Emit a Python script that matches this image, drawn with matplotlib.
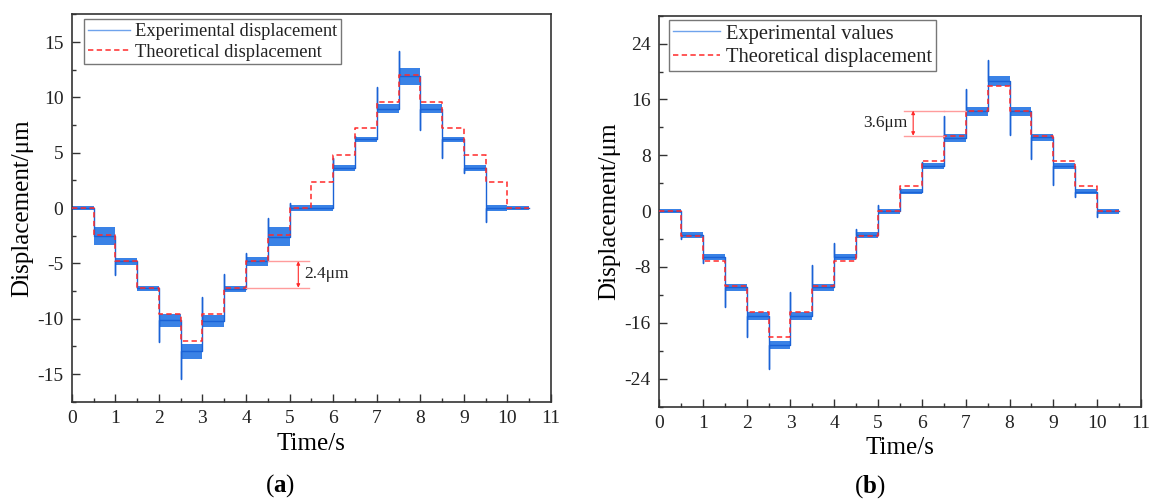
import numpy as np
import matplotlib
matplotlib.use("Agg")
import matplotlib.pyplot as plt
from matplotlib.ticker import MultipleLocator

plt.rcParams["font.family"] = ["Liberation Serif", "DejaVu Serif"]
plt.rcParams["mathtext.fontset"] = "custom"
plt.rcParams["mathtext.rm"] = "Liberation Serif"
plt.rcParams["mathtext.bf"] = "Liberation Serif:bold"
plt.rcParams["axes.unicode_minus"] = False

# start time of every step (s), last step ends at t_end
step_times = [0.0, 0.5, 1.0, 1.5, 2.0, 2.5, 3.0, 3.5, 4.0, 4.5, 5.0,
              5.5, 6.0, 6.5, 7.0, 7.5, 8.0, 8.5, 9.0, 9.5, 10.0]
t_end = 10.5

# (a) 2.4 um steps
theo_a = [0, -2.4, -4.8, -7.2, -9.6, -12.0, -9.6, -7.2, -4.8, -2.4, 0,
          2.4, 4.8, 7.2, 9.6, 12.0, 9.6, 7.2, 4.8, 2.4, 0]
exp_a = [0, -2.5, -4.8, -7.25, -10.15, -12.95, -10.2, -7.3, -4.8, -2.6, 0,
         0, 3.6, 6.2, 9.0, 11.9, 9.0, 6.2, 3.6, 0, 0]
noise_a = [0.2, 0.8, 0.3, 0.25, 0.6, 0.65, 0.55, 0.3, 0.4, 0.85, 0.25,
           0.25, 0.25, 0.25, 0.45, 0.8, 0.45, 0.25, 0.25, 0.25, 0.2]
spike_a = [0, -2.5, -6.06, -7.25, -12.1, -15.45, -8.0, -6.0, -4.1, -0.9, 0.5,
           0, 4.5, 6.5, 10.9, 14.2, 7.1, 4.5, 3.2, -1.3, 0]

# (b) 3.6 um steps
theo_b = [0, -3.6, -7.2, -10.8, -14.4, -18.0, -14.4, -10.8, -7.2, -3.6, 0,
          3.6, 7.2, 10.8, 14.4, 18.0, 14.4, 10.8, 7.2, 3.6, 0]
exp_b = [0, -3.4, -6.6, -10.9, -15.0, -19.2, -15.0, -10.9, -6.6, -3.4, 0,
         2.8, 6.5, 10.5, 14.3, 18.7, 14.3, 10.6, 6.5, 2.8, 0]
noise_b = [0.3, 0.4, 0.4, 0.5, 0.6, 0.6, 0.6, 0.5, 0.4, 0.4, 0.35,
           0.4, 0.4, 0.6, 0.65, 0.7, 0.65, 0.5, 0.4, 0.4, 0.35]
spike_b = [0, -4.0, -7.5, -13.7, -18.0, -22.6, -11.6, -7.7, -4.6, -2.6, 0.9,
           3.3, 7.0, 13.6, 17.5, 21.6, 10.9, 7.4, 3.7, 2.0, -0.8]

BLUE = "#3a82e6"
BLUE_DARK = "#1a62d6"
RED = "#ff2a2a"
PINK = "#ff9c9c"
DARK = "#333333"


def draw_panel(ax, theo, exp, noise, spike, exp_label, ylim, major, minor,
               legend_size, legend_anchor):

    edges = np.append(step_times, t_end)
    exp = np.asarray(exp, dtype=float)
    noise = np.asarray(noise, dtype=float)

    # noise band of every plateau
    lo = np.append(exp - noise, exp[-1] - noise[-1])
    hi = np.append(exp + noise, exp[-1] + noise[-1])
    ax.fill_between(edges, lo, hi, step="post", color=BLUE, lw=0,
                    zorder=2)

    # centre line with the overshoot at each switch
    xs, ys = [], []
    for i, t in enumerate(step_times):
        if i > 0:
            xs += [t, t]
            ys += [exp[i - 1], spike[i]]
        xs.append(t)
        ys.append(exp[i])
    xs.append(t_end)
    ys.append(exp[-1])
    ax.plot(xs, ys, color=BLUE_DARK, lw=1.0, zorder=3)

    # legend handle only
    ax.plot([], [], color="#6fa3ec", lw=1.0, label=exp_label)

    ax.step(edges, list(theo) + [theo[-1]], where="post", color=RED,
            lw=1.1, linestyle=(0, (3.5, 2.2)), zorder=4,
            label="Theoretical displacement")

    ax.set_xlim(0, 11)
    ax.set_ylim(*ylim)
    ax.xaxis.set_major_locator(MultipleLocator(1))
    ax.xaxis.set_minor_locator(MultipleLocator(0.5))
    ax.yaxis.set_major_locator(MultipleLocator(major))
    ax.yaxis.set_minor_locator(MultipleLocator(minor))
    ax.tick_params(which="both", direction="in", color=DARK, width=1.0,
                   top=False, right=False)
    ax.tick_params(which="major", length=6, labelsize=14, pad=6,
                   labelcolor="#222222")
    ax.tick_params(which="minor", length=3)
    for sp in ax.spines.values():
        sp.set_color(DARK)
        sp.set_linewidth(1.2)

    ax.set_xlabel("Time/s", fontsize=18, labelpad=4)
    ax.set_ylabel("Displacement/\u03bcm", fontsize=18, labelpad=3)

    leg = ax.legend(loc="upper left", bbox_to_anchor=legend_anchor,
                    borderaxespad=0, fontsize=legend_size, frameon=True,
                    fancybox=False, framealpha=1, edgecolor="#777777",
                    handlelength=2.3, handletextpad=0.25, borderpad=0.2,
                    labelspacing=0.2)
    leg.get_frame().set_linewidth(1.0)
    for txt in leg.get_texts():
        txt.set_color("#222222")


def step_marker(ax, x0_low, x0_high, x1, xa, y_low, y_high, text, tx, ha):
    ax.plot([x0_low, x1], [y_low, y_low], color=PINK, lw=1.0, zorder=5)
    ax.plot([x0_high, x1], [y_high, y_high], color=PINK, lw=1.0, zorder=5)
    ax.annotate("", xy=(xa, y_high), xytext=(xa, y_low),
                arrowprops=dict(arrowstyle="<|-|>", color=RED, lw=0.8,
                                mutation_scale=5, shrinkA=0, shrinkB=0),
                zorder=6)
    ax.text(tx, (y_low + y_high) / 2, text, fontsize=12.5, ha=ha,
            va="center", color="#222222")


fig = plt.figure(figsize=(11.53, 5.01), dpi=100)
ax_a = fig.add_axes([0.0622, 0.1982, 0.4157, 0.7729])
ax_b = fig.add_axes([0.5716, 0.1886, 0.4180, 0.7800])

draw_panel(ax_a, theo_a, exp_a, noise_a, spike_a, "Experimental displacement",
           (-17.5, 17.5), 5, 2.5, 13.3, (0.0257, 0.9876))
draw_panel(ax_b, theo_b, exp_b, noise_b, spike_b, "Experimental values",
           (-28, 28), 8, 4, 14.8, (0.0207, 0.989))

step_marker(ax_a, 4.0, 4.5, 5.45, 5.2, theo_a[7], theo_a[8], "2.4\u03bcm",
            5.33, "left")
step_marker(ax_b, 5.6, 5.6, 6.5, 5.8, theo_b[13], theo_b[14], "3.6\u03bcm",
            5.68, "right")
# upper line of (b) runs on to the 14.4 plateau
ax_b.plot([6.5, 7.0], [theo_b[14], theo_b[14]], color=PINK, lw=1.0, zorder=5)

fig.text(280 / 1153, 1 - 486 / 501, r"($\mathbf{a}$)", fontsize=18,
         ha="center", va="center")
fig.text(870 / 1153, 1 - 487 / 501, r"($\mathbf{b}$)", fontsize=18,
         ha="center", va="center")

fig.savefig("out.png", dpi=100)
